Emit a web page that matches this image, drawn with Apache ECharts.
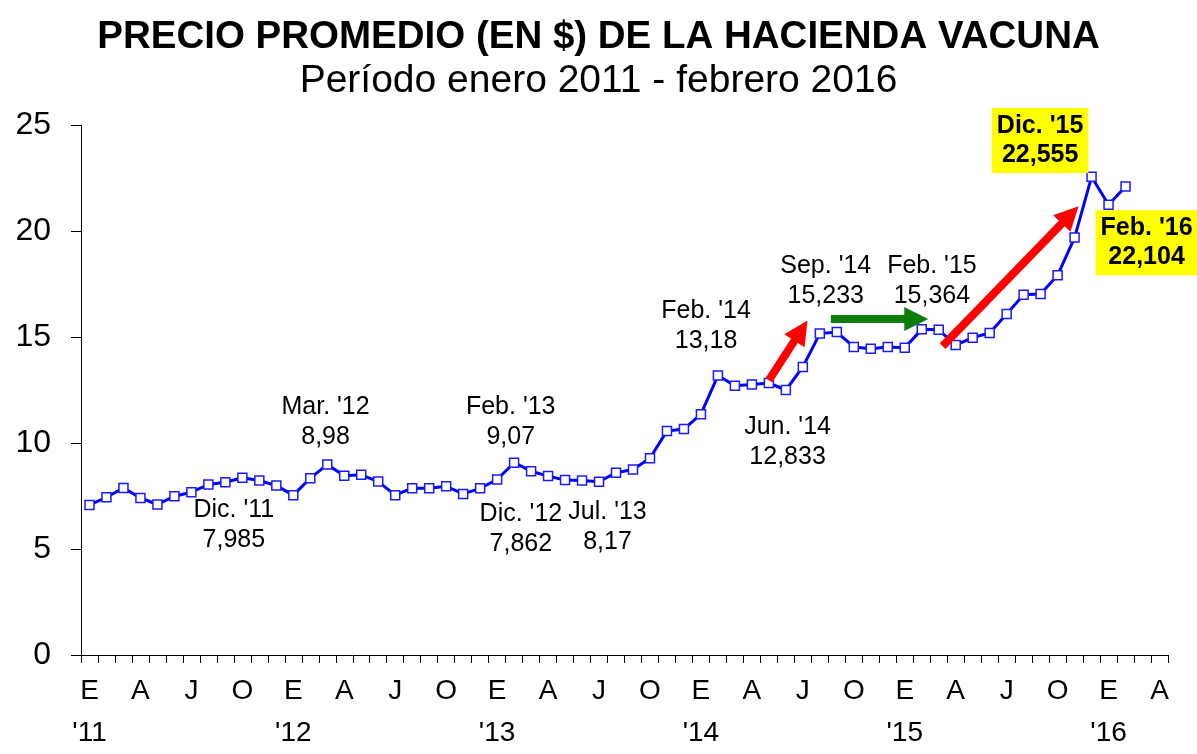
<!DOCTYPE html>
<html>
<head>
<meta charset="utf-8">
<title>Precio promedio hacienda vacuna</title>
<script src="https://cdn.jsdelivr.net/npm/echarts@6/dist/echarts.min.js"></script>
<style>
  html, body { margin: 0; padding: 0; background: #fff; }
  #main { width: 1197px; height: 754px; }
</style>
</head>
<body>
<div id="main"></div>
<script>
  // meses (inicial) y años del eje
  var monthLetters = ['E', 'F', 'M', 'A', 'M', 'J', 'J', 'A', 'S', 'O', 'N', 'D'];
  var years = ['11', '12', '13', '14', '15', '16'];
  var lastMonthIdx = 3; // abril 2016 es la ultima categoria

  // precio promedio ($/kg) enero 2011 - febrero 2016
  var precio = [
    7.08, 7.44, 7.88, 7.41, 7.10, 7.49, 7.68, 8.04, 8.15, 8.36, 8.23, 7.99,
    7.54, 8.34, 8.98, 8.46, 8.50, 8.18, 7.54, 7.87, 7.87, 7.96, 7.60, 7.86,
    8.28, 9.07, 8.67, 8.44, 8.25, 8.23, 8.17, 8.60, 8.75, 9.28, 10.57, 10.66,
    11.36, 13.18, 12.70, 12.76, 12.83, 12.50, 13.59, 15.16, 15.23, 14.53, 14.45, 14.53,
    14.49, 15.36, 15.34, 14.62, 14.97, 15.19, 16.09, 16.99, 17.03, 17.91, 19.69, 22.555,
    21.24, 22.104
  ];

  // textos de las anotaciones [posicion x (indice mes), y (valor), texto]
  var notas = [
    [8.5, 6.12, "Dic. '11\n7,985"],
    [13.9, 11.0, "Mar. '12\n8,98"],
    [24.8, 11.0, "Feb. '13\n9,07"],
    [25.4, 5.96, "Dic. '12\n7,862"],
    [30.5, 6.05, "Jul. '13\n8,17"],
    [36.3, 15.5, "Feb. '14\n13,18"],
    [41.1, 10.06, "Jun. '14\n12,833"],
    [43.35, 17.64, "Sep. '14\n15,233"],
    [49.6, 17.64, "Feb. '15\n15,364"]
  ];
  var notasDestacadas = [
    [55.97, 24.27, "Dic. '15\n22,555"],
    [62.24, 19.44, "Feb. '16\n22,104"]
  ];

  // flechas [desde, hasta, color]
  var flechas = [
    [[40.0, 12.96], [41.89, 15.30], '#ff0000'],
    [[43.65, 15.84], [48.68, 15.85], '#0b7d0b'],
    [[50.23, 14.57], [57.74, 20.76], '#ff0000']
  ];

  var categorias = [];
  years.forEach(function (y, i) {
    var n = (i === years.length - 1) ? lastMonthIdx + 1 : 12;
    for (var m = 0; m < n; m++) {
      categorias.push(monthLetters[m] + '|' + y);
    }
  });

  var fuente = 'Liberation Sans, Arial, sans-serif';

  var myChart = echarts.init(document.getElementById('main'));
  myChart.setOption({
    animation: false,
    title: [
      {
        text: 'PRECIO PROMEDIO (EN $) DE LA HACIENDA VACUNA',
        left: 'center',
        top: 13,
        textStyle: { fontFamily: fuente, fontSize: 38.5, fontWeight: 'bold', color: '#000' }
      },
      {
        text: 'Período enero 2011 - febrero 2016',
        left: 'center',
        top: 57,
        textStyle: { fontFamily: fuente, fontSize: 39, fontWeight: 'normal', color: '#000' }
      }
    ],
    grid: {
      left: 81,
      right: 29,
      top: 125,
      bottom: 96
    },
    xAxis: [
      {
        type: 'category',
        data: categorias,
        boundaryGap: true,
        axisLine: { lineStyle: { color: '#000', width: 1 } },
        axisTick: { show: true, interval: 0, length: 8, lineStyle: { color: '#000' } },
        axisLabel: {
          interval: 2,
          margin: 15,
          color: '#000',
          fontFamily: fuente,
          fontSize: 28,
          lineHeight: 42,
          formatter: function (val, idx) {
            var p = val.split('|');
            return idx % 12 === 0 ? p[0] + "\n'" + p[1] : p[0] + '\n ';
          }
        },
        splitLine: { show: false }
      },
      {
        // eje auxiliar para ubicar anotaciones
        type: 'value',
        min: -0.5,
        max: categorias.length - 0.5,
        show: false
      }
    ],
    yAxis: {
      type: 'value',
      min: 0,
      max: 25,
      interval: 5,
      axisLine: { show: true, onZero: false, lineStyle: { color: '#000', width: 1 } },
      axisTick: { show: true, length: 10, lineStyle: { color: '#000' } },
      axisLabel: { margin: 30, color: '#000', fontFamily: fuente, fontSize: 32 },
      splitLine: { show: false }
    },
    series: [
      {
        name: 'Precio',
        type: 'line',
        data: precio,
        symbol: 'rect',
        symbolSize: 9,
        showAllSymbol: true,
        lineStyle: { color: '#0000ff', width: 3 },
        itemStyle: { color: '#ffffff', borderColor: '#1a1aff', borderWidth: 1.5 },
        z: 3
      },
      {
        type: 'lines',
        coordinateSystem: 'cartesian2d',
        xAxisIndex: 1,
        yAxisIndex: 0,
        symbol: ['none', 'triangle'],
        symbolSize: [24, 24],
        lineStyle: { width: 8, opacity: 1, curveness: 0 },
        data: flechas.map(function (f) {
          return { coords: [f[0], f[1]], lineStyle: { color: f[2] }, itemStyle: { color: f[2] } };
        }),
        z: 4
      },
      {
        type: 'scatter',
        xAxisIndex: 1,
        yAxisIndex: 0,
        symbolSize: 0,
        silent: true,
        itemStyle: { opacity: 1 },
        label: {
          show: true,
          position: 'inside',
          color: '#000',
          fontFamily: fuente,
          fontSize: 25,
          lineHeight: 30,
          align: 'center',
          formatter: function (p) { return p.data[2]; }
        },
        data: notas,
        z: 5
      },
      {
        type: 'scatter',
        xAxisIndex: 1,
        yAxisIndex: 0,
        symbolSize: 0,
        silent: true,
        itemStyle: { opacity: 1 },
        label: {
          show: true,
          position: 'inside',
          color: '#000',
          fontFamily: fuente,
          fontSize: 25,
          fontWeight: 'bold',
          lineHeight: 29,
          align: 'center',
          backgroundColor: '#ffff00',
          padding: [4, 5, 3, 5],
          formatter: function (p) { return p.data[2]; }
        },
        data: notasDestacadas,
        z: 5
      }
    ]
  });
</script>
</body>
</html>
